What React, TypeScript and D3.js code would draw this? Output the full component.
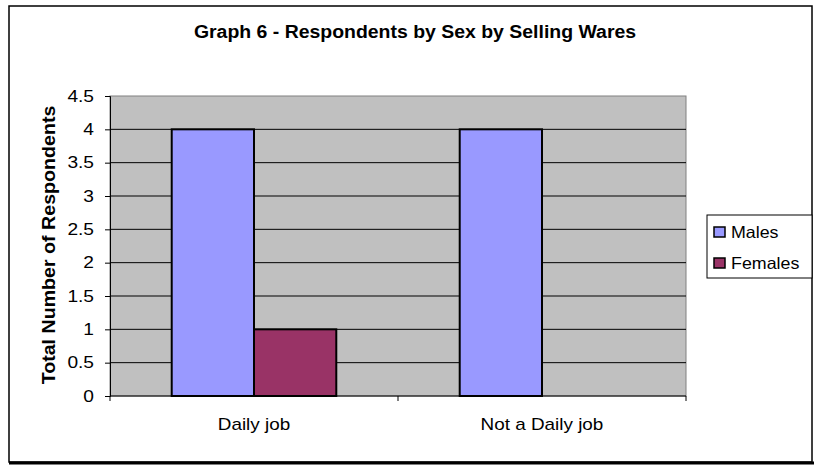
import React, { useEffect, useRef } from 'react';
import * as d3 from 'd3';

const title = 'Graph 6 - Respondents by Sex by Selling Wares';
const yTitle = 'Total Number of Respondents';
const categories = ['Daily job', 'Not a Daily job'];
const seriesNames = ['Males', 'Females'];
const males = [4, 4];
const females = [1, 0];
const yTicks = [0, 0.5, 1, 1.5, 2, 2.5, 3, 3.5, 4, 4.5];
const colors = ['#9999FF', '#993366'];

const FONT = '"Liberation Sans", Arial, sans-serif';

// stretch text a bit, the source was rendered wider than Arial
function widen(sel: d3.Selection<SVGTextElement, any, any, any>, factor: number) {
  sel.each(function () {
    const len = this.getComputedTextLength();
    d3.select(this).attr('textLength', len * factor).attr('lengthAdjust', 'spacingAndGlyphs');
  });
}

export default function App() {
  const ref = useRef<SVGSVGElement | null>(null);

  useEffect(() => {
    const svg = d3.select(ref.current);
    svg.selectAll('*').remove();

    const margin = { left: 110, top: 96, right: 686, bottom: 396 };

    // outer frame
    svg.append('rect')
      .attr('x', 9).attr('y', 6).attr('width', 803).attr('height', 456)
      .attr('fill', '#fff').attr('stroke', '#000').attr('stroke-width', 1.5);
    svg.append('line')
      .attr('x1', 9).attr('x2', 814).attr('y1', 463).attr('y2', 463)
      .attr('stroke', '#000').attr('stroke-width', 3);

    const t = svg.append('text')
      .attr('x', 415).attr('y', 38)
      .attr('text-anchor', 'middle')
      .attr('font-family', FONT).attr('font-size', 18).attr('font-weight', 'bold')
      .text(title);
    widen(t, 1.08);

    const x0 = d3.scaleBand<string>().domain(categories).range([margin.left, margin.right]);
    const x1 = d3.scaleBand<string>().domain(seriesNames).range([0, x0.bandwidth()])
      .paddingInner(0).paddingOuter(0.75);
    const y = d3.scaleLinear().domain([0, 4.5]).range([margin.bottom, margin.top]);

    // plot area
    svg.append('rect')
      .attr('x', margin.left).attr('y', margin.top)
      .attr('width', margin.right - margin.left).attr('height', margin.bottom - margin.top)
      .attr('fill', '#C0C0C0').attr('stroke', '#808080').attr('stroke-width', 1);

    svg.append('g').selectAll('line')
      .data(yTicks.filter(d => d > 0 && d < 4.5))
      .join('line')
      .attr('x1', margin.left).attr('x2', margin.right)
      .attr('y1', d => y(d)).attr('y2', d => y(d))
      .attr('stroke', '#000').attr('stroke-width', 1);

    // bars
    const data = categories.map((c, i) => ({ c, vals: [males[i], females[i]] }));
    const g = svg.append('g');
    data.forEach(d => {
      d.vals.forEach((v, j) => {
        if (v <= 0) return;
        g.append('rect')
          .attr('x', (x0(d.c) as number) + (x1(seriesNames[j]) as number))
          .attr('y', y(v))
          .attr('width', x1.bandwidth())
          .attr('height', y(0) - y(v))
          .attr('fill', colors[j])
          .attr('stroke', '#000').attr('stroke-width', 2);
      });
    });

    // y axis
    const yAxis = svg.append('g')
      .attr('transform', `translate(${margin.left},0)`)
      .call(d3.axisLeft(y).tickValues(yTicks).tickSize(5).tickPadding(11).tickFormat(d3.format('')));
    yAxis.select('.domain').attr('stroke', '#000');
    yAxis.selectAll('.tick line').attr('stroke', '#000');
    const yl = yAxis.selectAll<SVGTextElement, number>('.tick text')
      .attr('font-family', FONT).attr('font-size', 16.5).attr('fill', '#000');
    widen(yl, 1.16);

    // x axis
    svg.append('line')
      .attr('x1', margin.left).attr('x2', margin.right)
      .attr('y1', margin.bottom).attr('y2', margin.bottom)
      .attr('stroke', '#000');
    const edges = [margin.left, ...categories.map(c => (x0(c) as number) + x0.bandwidth())];
    svg.append('g').selectAll('line')
      .data(edges)
      .join('line')
      .attr('x1', d => d).attr('x2', d => d)
      .attr('y1', margin.bottom).attr('y2', margin.bottom + 5)
      .attr('stroke', '#000');
    const xl = svg.append('g').selectAll<SVGTextElement, string>('text')
      .data(categories)
      .join('text')
      .attr('x', d => (x0(d) as number) + x0.bandwidth() / 2)
      .attr('y', 430)
      .attr('text-anchor', 'middle')
      .attr('font-family', FONT).attr('font-size', 17)
      .text(d => d);
    widen(xl, 1.11);

    const yt = svg.append('text')
      .attr('transform', 'translate(55,245) rotate(-90)')
      .attr('text-anchor', 'middle')
      .attr('font-family', FONT).attr('font-size', 18).attr('font-weight', 'bold')
      .text(yTitle);
    widen(yt, 1.09);

    // legend
    const lg = svg.append('g');
    lg.append('rect')
      .attr('x', 707).attr('y', 215).attr('width', 105).attr('height', 63)
      .attr('fill', '#fff').attr('stroke', '#000').attr('stroke-width', 1);
    seriesNames.forEach((s, i) => {
      lg.append('rect')
        .attr('x', 714).attr('y', 227 + i * 31).attr('width', 11).attr('height', 10)
        .attr('fill', colors[i]).attr('stroke', '#000').attr('stroke-width', 1.5);
      const lt = lg.append('text')
        .attr('x', 731).attr('y', 238 + i * 31)
        .attr('font-family', FONT).attr('font-size', 16.5)
        .text(s);
      widen(lt, 1.08);
    });
  }, []);

  return (
    <svg ref={ref} width={814} height={465} style={{ position: 'absolute', left: 0, top: 0 }} />
  );
}
